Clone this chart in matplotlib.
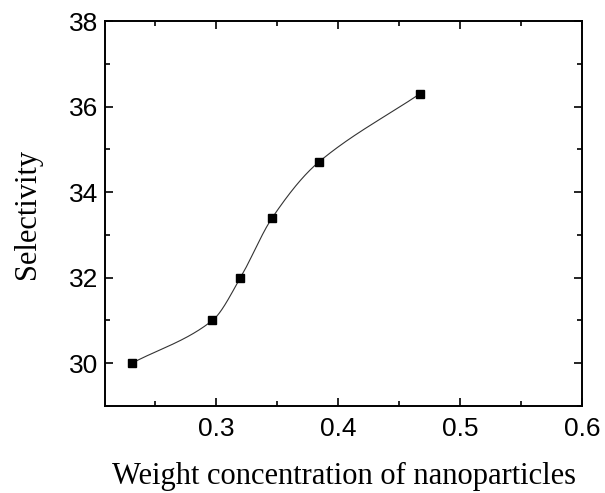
import numpy as np
import matplotlib
matplotlib.use("Agg")
import matplotlib.pyplot as plt
from matplotlib.ticker import MultipleLocator

# Data
concentration = [0.231, 0.297, 0.320, 0.346, 0.384, 0.467]
selectivity = [30.0, 31.0, 32.0, 33.4, 34.7, 36.3]

x_ticks = [0.3, 0.4, 0.5, 0.6]
y_ticks = [30, 32, 34, 36, 38]


def smooth_curve(x, y, n=60):
    """Cubic Hermite (Catmull-Rom style) curve through the points."""
    x = np.asarray(x, float)
    y = np.asarray(y, float)
    k = len(x)
    m = np.empty(k)
    m[0] = (y[1] - y[0]) / (x[1] - x[0])
    m[-1] = (y[-1] - y[-2]) / (x[-1] - x[-2])
    for i in range(1, k - 1):
        m[i] = (y[i + 1] - y[i - 1]) / (x[i + 1] - x[i - 1])
    xs_all, ys_all = [], []
    for i in range(k - 1):
        h = x[i + 1] - x[i]
        t = np.linspace(0, 1, n)
        h00 = 2 * t ** 3 - 3 * t ** 2 + 1
        h10 = t ** 3 - 2 * t ** 2 + t
        h01 = -2 * t ** 3 + 3 * t ** 2
        h11 = t ** 3 - t ** 2
        xs_all.append(x[i] + t * h)
        ys_all.append(h00 * y[i] + h10 * h * m[i] + h01 * y[i + 1]
                      + h11 * h * m[i + 1])
    return np.concatenate(xs_all), np.concatenate(ys_all)


fig = plt.figure(figsize=(6.05, 4.93), dpi=100)
ax = fig.add_axes([0.1736, 0.1765, 0.962 - 0.1736, 0.957 - 0.1765])

xs, ys = smooth_curve(concentration, selectivity)
ax.plot(xs, ys, color="#333333", lw=0.8)
ax.plot(concentration, selectivity, ls="none", marker="s", ms=5.8,
        color="black")

ax.set_xlim(0.209, 0.6)
ax.set_ylim(29, 38)
ax.set_xticks(x_ticks)
ax.set_xticklabels([f"{v:.1f}" for v in x_ticks])
ax.set_yticks(y_ticks)
ax.set_yticklabels([str(v) for v in y_ticks])
ax.xaxis.set_minor_locator(MultipleLocator(0.05))
ax.yaxis.set_minor_locator(MultipleLocator(1))

for s in ax.spines.values():
    s.set_linewidth(1.4)

ax.tick_params(which="both", direction="in", top=True, right=True,
               width=1.2, labelsize=19)
ax.tick_params(axis="x", which="both", pad=8)
ax.tick_params(axis="y", which="both", pad=5)
ax.tick_params(which="major", length=5.5)
ax.tick_params(which="minor", length=3.5)
for lab in ax.get_xticklabels() + ax.get_yticklabels():
    lab.set_fontfamily("Liberation Sans")

ax.set_xlabel("Weight concentration of nanoparticles",
              fontfamily="Liberation Serif", fontsize=22, labelpad=15)
ax.set_ylabel("Selectivity", fontfamily="Liberation Serif", fontsize=22,
              labelpad=19)

fig.savefig("out.png", dpi=100)
